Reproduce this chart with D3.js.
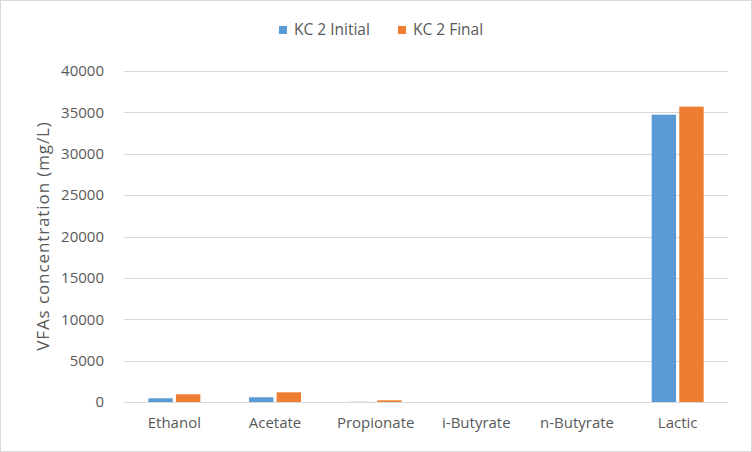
<!DOCTYPE html>
<meta charset="utf-8">
<style>
body { margin: 0; background: #fff; }
svg { font-family: "Open Sans", "Noto Sans", sans-serif; }
.grid line { stroke: #d9d9d9; stroke-width: 1; }
</style>
<body>
<svg id="chart"></svg>
<script src="https://cdn.jsdelivr.net/npm/d3@7"></script>
<script>

var categories = ["Ethanol", "Acetate", "Propionate", "i-Butyrate", "n-Butyrate", "Lactic"];
var seriesNames = ["KC 2 Initial", "KC 2 Final"];
var initialValues = [450, 570, 20, 0, 0, 34720];
var finalValues = [930, 1170, 200, 0, 0, 35690];
var yTicks = [0, 5000, 10000, 15000, 20000, 25000, 30000, 35000, 40000];

var colors = ["#5b9bd5", "#ed7d31"];
var textColor = "#595959";

var W = 752, H = 452;
var margin = {top: 71, right: 24, bottom: 50, left: 124};
var width = W - margin.left - margin.right,
    height = H - margin.top - margin.bottom;

var svg = d3.select("#chart").attr("width", W).attr("height", H);

// outer chart border
svg.append("rect")
    .attr("x", 0.5).attr("y", 0.5)
    .attr("width", W - 1).attr("height", H - 1)
    .attr("fill", "#fff").attr("stroke", "#d9d9d9");

var g = svg.append("g").attr("transform", "translate(" + margin.left + "," + margin.top + ")");

var x = d3.scaleBand().domain(categories).range([0, width]);
var y = d3.scaleLinear().domain([0, 40000]).range([height, 0]);

var barW = 23, barGap = 6;
var xs = d3.scaleBand().domain(seriesNames)
    .range([x.bandwidth() / 2 - barW - barGap / 2, x.bandwidth() / 2 + barW + barGap / 2])
    .paddingInner(barGap / (2 * barW + barGap));

// gridlines
g.append("g").attr("class", "grid")
  .selectAll("line").data(yTicks).enter().append("line")
    .attr("x1", 0).attr("x2", width)
    .attr("y1", d => Math.round(y(d)) + 0.5).attr("y2", d => Math.round(y(d)) + 0.5);

// y axis labels
g.append("g")
    .call(d3.axisLeft(y).tickValues(yTicks).tickSize(0).tickPadding(20).tickFormat(d3.format("d")))
    .call(a => a.select(".domain").remove())
  .selectAll("text")
    .style("font-size", "15px").style("font-family", "'Open Sans', sans-serif")
    .attr("fill", textColor);

// x axis labels
g.append("g")
    .attr("transform", "translate(0," + height + ")")
    .call(d3.axisBottom(x).tickSize(0).tickPadding(15))
    .call(a => a.select(".domain").remove())
  .selectAll("text")
    .style("font-size", "15px").style("font-family", "'Open Sans', sans-serif")
    .attr("fill", textColor);

var table = categories.map((c, i) => ({cat: c, vals: [initialValues[i], finalValues[i]]}));

g.selectAll(".cat").data(table).enter().append("g")
    .attr("class", "cat")
    .attr("transform", d => "translate(" + x(d.cat) + ",0)")
  .selectAll("rect").data(d => d.vals.map((v, j) => ({key: seriesNames[j], v: v, j: j})))
  .enter().append("rect")
    .attr("x", d => xs(d.key))
    .attr("width", xs.bandwidth())
    .attr("y", d => y(d.v))
    .attr("height", d => y(0) - y(d.v))
    .attr("fill", d => colors[d.j]);

// y axis title
svg.append("text")
    .attr("transform", "translate(49," + 236 + ") rotate(-90)")
    .attr("text-anchor", "middle")
    .attr("fill", textColor)
    .style("font-size", "17px")
    .style("letter-spacing", "0.9px")
    .text("VFAs concentration (mg/L)");

// legend
var legend = svg.append("g").attr("transform", "translate(279,30)");
var items = legend.selectAll("g").data(seriesNames).enter().append("g")
    .attr("transform", (d, i) => "translate(" + (i * 119) + ",0)");
items.append("rect")
    .attr("x", 0).attr("y", -4).attr("width", 8).attr("height", 8)
    .attr("fill", (d, i) => colors[i]);
items.append("text")
    .attr("x", 15).attr("y", 0).attr("dy", "0.35em")
    .attr("fill", textColor).style("font-size", "15.5px")
    .text(d => d);

</script>
